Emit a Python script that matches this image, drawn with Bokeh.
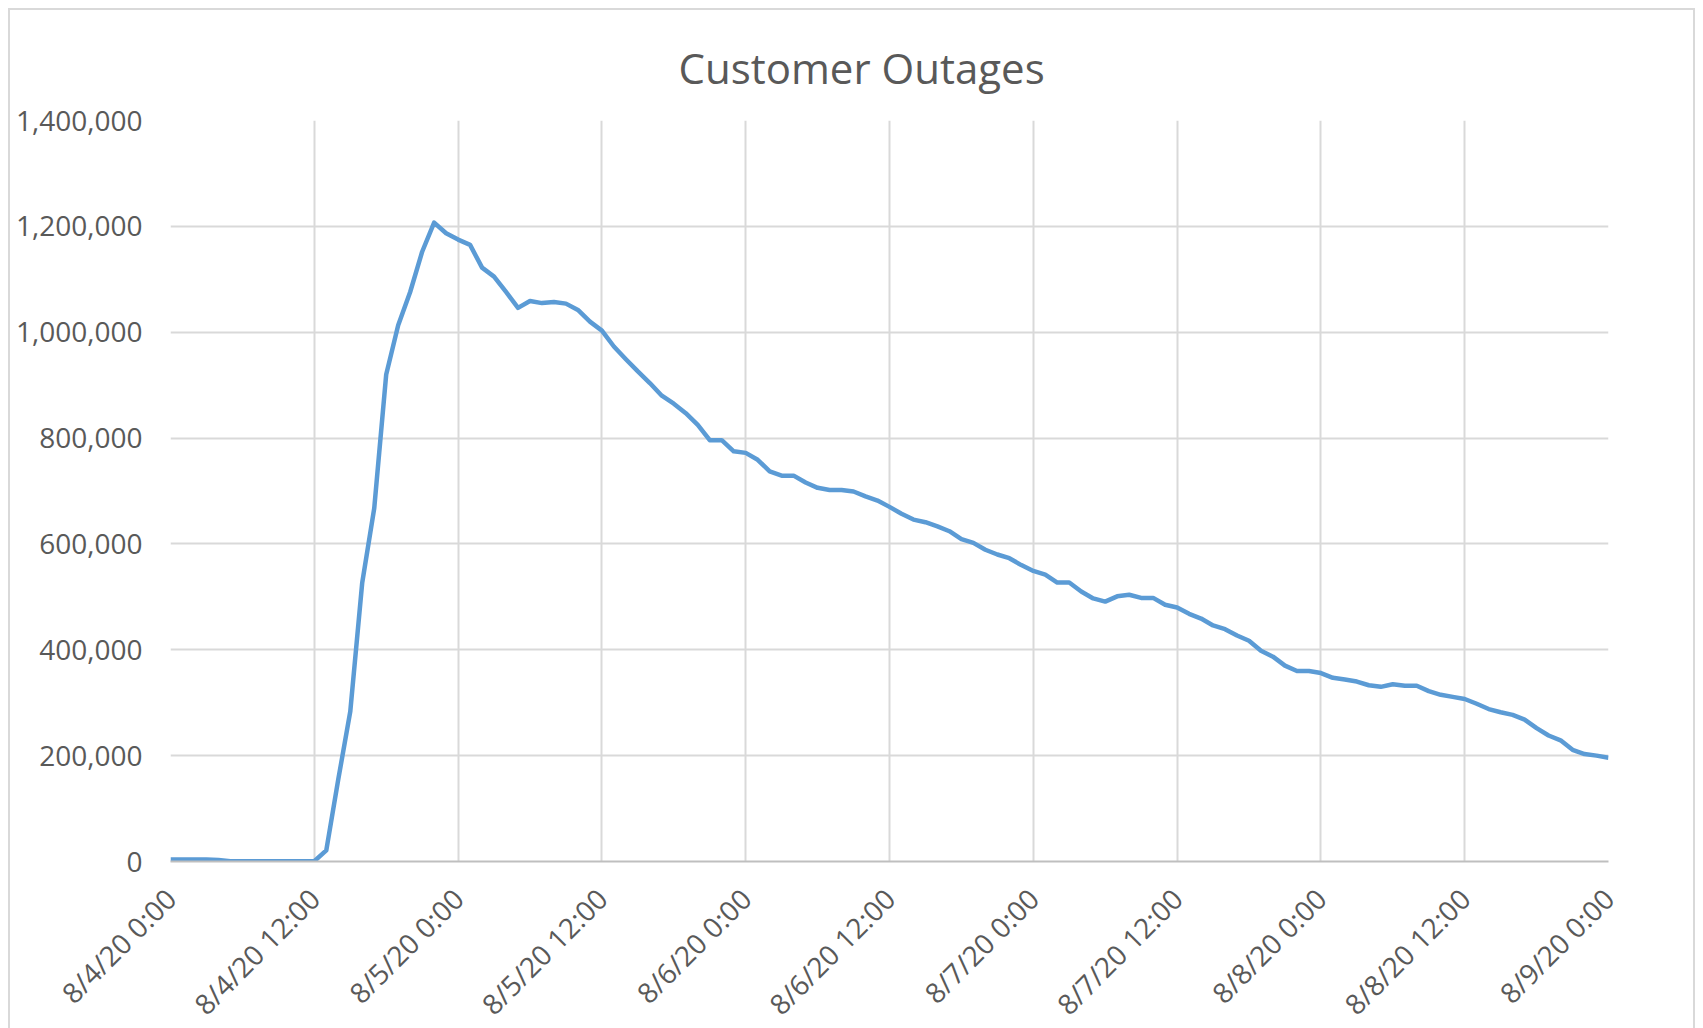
import math
from bokeh.plotting import figure
from bokeh.models import FixedTicker, NumeralTickFormatter, Range1d, Title
from bokeh.embed import file_html
from bokeh.resources import INLINE

# ---- data (hourly, starting 8/4/20 0:00) ----
outages = [
    4000, 4000, 4000, 4000, 3000, 500, 500, 500, 500, 500, 500, 500, 500,
    21000, 155000, 283000, 527000, 667000, 920000, 1013000, 1076000, 1152000,
    1207000, 1187000, 1175000, 1165000, 1122000, 1105000, 1076000, 1046000,
    1059000, 1055000, 1057000, 1054000, 1042000, 1020000, 1003000, 973000,
    949000, 926000, 904000, 880000, 865000, 847000, 825000, 796000, 796000,
    775000, 772000, 759000, 737000, 729000, 729000, 716000, 706000, 702000,
    702000, 699000, 690000, 682000, 670000, 657000, 646000, 641000, 633000,
    624000, 609000, 602000, 589000, 580000, 573000, 560000, 549000, 542000,
    527000, 527000, 510000, 497000, 491000, 501000, 504000, 498000, 498000,
    485000, 480000, 468000, 459000, 446000, 439000, 427000, 417000, 398000,
    387000, 370000, 360000, 360000, 356000, 347000, 344000, 340000, 333000,
    330000, 335000, 332000, 332000, 322000, 315000, 311000, 307000, 298000,
    288000, 282000, 277000, 268000, 252000, 238000, 229000, 211000, 203000,
    200000, 196000,
]
hours = list(range(len(outages)))

tick_hours = [0, 12, 24, 36, 48, 60, 72, 84, 96, 108, 120]
tick_labels = ["8/4/20 0:00", "8/4/20 12:00", "8/5/20 0:00", "8/5/20 12:00",
               "8/6/20 0:00", "8/6/20 12:00", "8/7/20 0:00", "8/7/20 12:00",
               "8/8/20 0:00", "8/8/20 12:00", "8/9/20 0:00"]
y_ticks = [0, 200000, 400000, 600000, 800000, 1000000, 1200000, 1400000]

FONT = "Open Sans"
TXT = "#595959"
GRID = "#d9d9d9"

p = figure(width=1683, height=1008, frame_width=1438, frame_height=741,
           output_backend="svg", toolbar_location=None,
           x_range=Range1d(0, 120), y_range=Range1d(0, 1400000),
           min_border_left=160, min_border_right=85,
           min_border_top=110, min_border_bottom=157)
p.styles = {"border": "2px solid #d9d9d9", "margin-left": "8px", "margin-top": "8px"}
p.outline_line_color = None
p.background_fill_color = "white"
p.border_fill_color = "white"

t = Title(text="Customer Outages", align="left", text_font=FONT,
          text_font_size="42px", text_font_style="normal", text_color=TXT,
          offset=508, standoff=49)
p.add_layout(t, "above")

p.line(hours, outages, line_color="#5B9BD5", line_width=4.5, line_join="round")

# x axis
p.xaxis.ticker = FixedTicker(ticks=tick_hours)
p.xaxis.major_label_overrides = {h: l for h, l in zip(tick_hours, tick_labels)}
p.xaxis.major_label_orientation = math.pi / 4
p.xaxis.major_label_text_font = FONT
p.xaxis.major_label_text_font_size = "28px"
p.xaxis.major_label_text_color = TXT
p.xaxis.axis_line_color = "#bfbfbf"
p.xaxis.axis_line_width = 2
p.xaxis.major_tick_line_color = None
p.xaxis.minor_tick_line_color = None
p.xaxis.major_label_standoff = 26

# y axis
p.yaxis.ticker = FixedTicker(ticks=y_ticks)
p.yaxis.formatter = NumeralTickFormatter(format="0,0")
p.yaxis.major_label_text_font = FONT
p.yaxis.major_label_text_font_size = "28px"
p.yaxis.major_label_text_color = TXT
p.yaxis.axis_line_color = None
p.yaxis.major_tick_line_color = None
p.yaxis.minor_tick_line_color = None
p.yaxis.major_label_standoff = 22

p.xgrid.ticker = FixedTicker(ticks=tick_hours)
p.xgrid.grid_line_color = GRID
p.xgrid.grid_line_width = 2
p.ygrid.grid_line_color = GRID
p.ygrid.grid_line_width = 2

open("out.html", "w").write(file_html(p, INLINE))
